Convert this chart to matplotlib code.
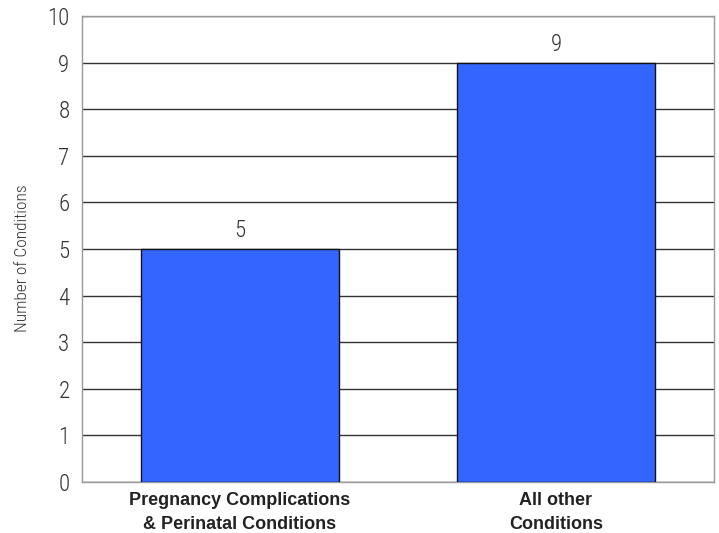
import matplotlib
matplotlib.use('Agg')
import matplotlib.pyplot as plt

categories = ['Pregnancy Complications\n& Perinatal Conditions', 'All other\nConditions']
values = [5, 9]
y_ticks = list(range(0, 11))

plt.rcParams['font.family'] = ['Liberation Sans Narrow', 'Roboto Condensed', 'Roboto', 'DejaVu Sans']


def main():
    fig = plt.figure(figsize=(7.19, 5.33), dpi=100)
    ax = fig.add_axes([0.114, 0.0957, 0.879, 0.874])

    xs = range(len(categories))
    ax.bar(xs, values, width=0.627, color='#3366FF', edgecolor='#111111', linewidth=1.0, zorder=3)

    ax.set_xlim(-0.5, 1.5)
    ax.set_ylim(0, 10)
    ax.set_yticks(y_ticks)
    ax.yaxis.grid(True, color='#333333', linewidth=1.0, zorder=1)
    ax.set_xticks(list(xs))
    ax.set_xticklabels(categories, fontsize=13, fontweight='bold', color='#222222',
                       family=['Liberation Sans', 'DejaVu Sans'], linespacing=1.55)
    ax.tick_params(axis='y', length=0, labelsize=16.5, colors='#333333', pad=9)
    ax.tick_params(axis='x', length=0, pad=7)
    for lab in ax.get_yticklabels():
        lab.set_fontweight('light')

    for sp in ax.spines.values():
        sp.set_color('#999999')
        sp.set_linewidth(1.0)

    for x, v in zip(xs, values):
        ax.text(x, v + 0.15, str(v), ha='center', va='bottom', fontsize=16.5,
                fontweight='light', color='#333333')

    ax.set_ylabel('Number of Conditions', fontsize=12.5, fontweight='light', color='#333333')
    ax.yaxis.set_label_coords(-0.083, 0.48)

    fig.savefig('out.png', dpi=100)


if __name__ == "__main__":
    main()
